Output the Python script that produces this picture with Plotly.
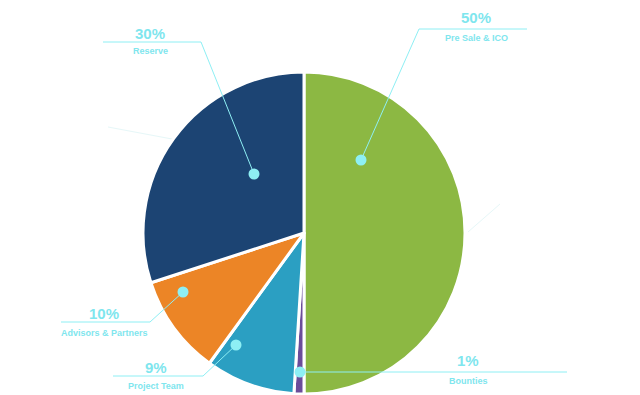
import plotly.graph_objects as go

# Data
labels = ["Pre Sale & ICO", "Bounties", "Project Team", "Advisors & Partners", "Reserve"]
values = [50, 1, 9, 10, 30]
pct_text = ["50%", "1%", "9%", "10%", "30%"]
colors = ["#8cb843", "#6b4c9a", "#2b9fc2", "#ec8526", "#1c4473"]

W, H = 640, 395
cx, cy, r = 304, 233, 161

fig = go.Figure()
fig.add_trace(go.Pie(
    labels=labels, values=values, sort=False, direction="clockwise", rotation=0,
    marker=dict(colors=colors, line=dict(color="white", width=3)),
    textinfo="none", hoverinfo="label+percent", showlegend=False,
    domain=dict(x=[(cx - r) / W, (cx + r) / W], y=[(H - cy - r) / H, (H - cy + r) / H]),
))

# Leader-line layout (pixel positions of callouts)
callouts = {
    "Pre Sale & ICO": dict(dot=(361, 160), elbow=(419, 29), end=(527, 29), tx=476, ty_pct=17, ty_lab=38),
    "Reserve": dict(dot=(254, 174), elbow=(201, 42), end=(103, 42), tx=150, ty_pct=33, ty_lab=51),
    "Advisors & Partners": dict(dot=(183, 292), elbow=(150, 322), end=(61, 322), tx=104, ty_pct=313, ty_lab=333),
    "Project Team": dict(dot=(236, 345), elbow=(203, 376), end=(113, 376), tx=156, ty_pct=367, ty_lab=386),
    "Bounties": dict(dot=(300, 372), elbow=(300, 372), end=(567, 372), tx=468, ty_pct=360, ty_lab=381),
}
line_col = "#8eeff4"
text_col = "#7fe6ee"

shapes = []
for lab, pct in zip(labels, pct_text):
    c = callouts[lab]
    shapes.append(dict(type="path", xref="x", yref="y", layer="above",
                       path=f"M{c['dot'][0]},{c['dot'][1]} L{c['elbow'][0]},{c['elbow'][1]} L{c['end'][0]},{c['end'][1]}",
                       line=dict(color=line_col, width=1)))
    d = 5.5
    shapes.append(dict(type="circle", xref="x", yref="y", layer="above",
                       x0=c["dot"][0] - d, x1=c["dot"][0] + d, y0=c["dot"][1] - d, y1=c["dot"][1] + d,
                       fillcolor=line_col, line=dict(width=0)))
    fig.add_annotation(x=c["tx"], y=c["ty_pct"], xref="x", yref="y", text="<b>" + pct + "</b>",
                       showarrow=False, font=dict(family="Arial, Liberation Sans", size=15, color=text_col))
    fig.add_annotation(x=c["tx"], y=c["ty_lab"], xref="x", yref="y", text="<b>" + lab + "</b>",
                       showarrow=False, font=dict(family="Arial, Liberation Sans", size=9, color=text_col))

# faint decorative lines
for seg in [((108, 127), (172, 139)), ((500, 204), (468, 232))]:
    shapes.append(dict(type="line", xref="x", yref="y", layer="below",
                       x0=seg[0][0], y0=seg[0][1], x1=seg[1][0], y1=seg[1][1],
                       line=dict(color="#e6f7f8", width=1)))

fig.update_layout(
    width=W, height=H, margin=dict(l=0, r=0, t=0, b=0),
    paper_bgcolor="white", plot_bgcolor="rgba(0,0,0,0)",
    xaxis=dict(range=[0, W], visible=False, fixedrange=True),
    yaxis=dict(range=[H, 0], visible=False, fixedrange=True),
    shapes=shapes,
)
fig.write_html("out.html", config={"displayModeBar": False},
               post_script="document.body.style.margin='0';document.body.style.overflow='hidden';")
